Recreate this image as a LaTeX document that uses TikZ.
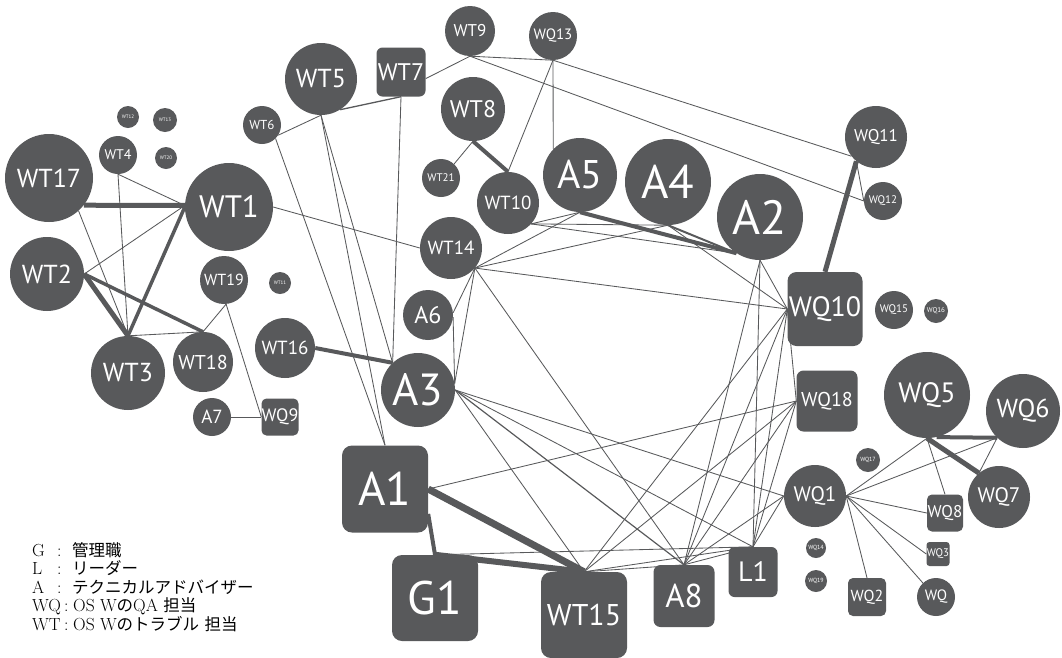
\documentclass[tikz,border=0pt]{standalone}
\usepackage{fontspec}
\setsansfont{PT Sans}
\newfontfamily\jpfont{Noto Sans CJK JP}
\newcommand\jtxt[1]{{\jpfont\fontsize{16.5}{16.5}\selectfont #1}}
\definecolor{ng}{RGB}{88,89,91}
\pgfdeclarelayer{bg}
\pgfsetlayers{bg,main}
\begin{document}
\begin{tikzpicture}[x=1pt,y=-1pt,
  basenode/.style={fill=ng, text=white, inner sep=0pt, draw=none},
  cnode/.style={basenode, circle, minimum size=#1},
  rnode/.style={basenode, rectangle, rounded corners=#1},
  fs/.style={font=\sffamily\fontsize{#1}{#1}\selectfont},
  edge/.style={draw=ng, line width=0.85pt},
  heavy/.style={draw=ng, line width=#1},
  legend/.style={anchor=base west, inner sep=0pt, font=\fontsize{17.5}{17.5}\selectfont}
]
\useasboundingbox (0,0) rectangle (1062,657);

% ---------- circle nodes ----------
\node[cnode=88, fs=26] (wt17) at (49,178) {WT17};
\node[cnode=88, fs=31] (wt1) at (229,207) {WT1};
\node[cnode=38, fs=14] (wt4) at (118,155) {WT4};
\node[cnode=22, fs=5] (wt12) at (128,117) {WT12};
\node[cnode=24, fs=5] (wt13) at (165,120) {WT13};
\node[cnode=22, fs=5] (wt20) at (166,158) {WT20};
\node[cnode=38, fs=13] (wt6) at (262,125) {WT6};
\node[cnode=74, fs=26] (wt2) at (47,274) {WT2};
\node[cnode=48, fs=16] (wt19) at (224,280) {WT19};
\node[cnode=22, fs=5] (wt11) at (280,283) {WT11};
\node[cnode=74, fs=26] (wt3) at (128,373) {WT3};
\node[cnode=60, fs=20] (wt18) at (203,362) {WT18};
\node[cnode=60, fs=19] (wt16) at (285,348) {WT16};
\node[cnode=38, fs=19] (a7) at (212,417) {A7};
\node[cnode=50, fs=17] (wt9) at (470,31) {WT9};
\node[cnode=48, fs=15] (wq13) at (553,36) {WQ13};
\node[cnode=72, fs=26] (wt5) at (321,79) {WT5};
\node[cnode=64, fs=24] (wt8) at (473,109) {WT8};
\node[cnode=38, fs=11] (wt21) at (441,178) {WT21};
\node[cnode=62, fs=19] (wt10) at (508,203) {WT10};
\node[cnode=74, fs=40] (a5) at (580,175) {A5};
\node[cnode=62, fs=19] (wt14) at (451,248) {WT14};
\node[cnode=50, fs=24] (a6) at (428,315) {A6};
\node[cnode=74, fs=45] (a3) at (418,390) {A3};
\node[cnode=86, fs=47] (a4) at (668,182) {A4};
\node[cnode=86, fs=48] (a2) at (760,217) {A2};
\node[cnode=62, fs=17] (wq11) at (876,137) {WQ11};
\node[cnode=38, fs=11] (wq12) at (883,201) {WQ12};
\node[cnode=38, fs=11] (wq15) at (894,310) {WQ15};
\node[cnode=24, fs=7] (wq16) at (936,311) {WQ16};
\node[cnode=86, fs=28] (wq5) at (927,395) {WQ5};
\node[cnode=74, fs=26] (wq6) at (1023,411) {WQ6};
\node[cnode=24, fs=6] (wq17) at (868,460) {WQ17};
\node[cnode=62, fs=21] (wq1) at (815,496) {WQ1};
\node[cnode=62, fs=21] (wq7) at (999,497) {WQ7};
\node[cnode=20, fs=6] (wq14) at (816,548) {WQ14};
\node[cnode=22, fs=6] (wq19) at (816,581) {WQ19};
\node[cnode=38, fs=15] (wq) at (936,597) {WQ};

% ---------- rounded square nodes ----------
\node[rnode=5, minimum width=37, minimum height=37, fs=18] (wq9) at (280,417) {WQ9};
\node[rnode=6, minimum width=49, minimum height=49, fs=24] (wt7) at (401,72) {WT7};
\node[rnode=9, minimum width=75, minimum height=74, fs=28] (wq10) at (825,309) {WQ10};
\node[rnode=7, minimum width=61, minimum height=61, fs=20] (wq18) at (827,401) {WQ18};
\node[rnode=5, minimum width=36, minimum height=37, fs=17] (wq8) at (945,513) {WQ8};
\node[rnode=3, minimum width=23, minimum height=24, fs=11] (wq3) at (938,554) {WQ3};
\node[rnode=5, minimum width=38, minimum height=38, fs=16] (wq2) at (867,597) {WQ2};
\node[rnode=10, minimum width=86, minimum height=87, fs=47] (a1) at (385,489) {A1};
\node[rnode=10, minimum width=86, minimum height=86, fs=47] (g1) at (435,598) {G1};
\node[rnode=10, minimum width=86, minimum height=86, fs=30] (wt15) at (584,615) {WT15};
\node[rnode=7, minimum width=61, minimum height=62, fs=33] (a8) at (684,596) {A8};
\node[rnode=6, minimum width=49, minimum height=50, fs=28] (l1) at (753,572) {L1};

% ---------- connectors ----------
\begin{pgfonlayer}{bg}
% left cluster
\draw[heavy=5pt] (wt17.-38) -- (wt1.178);
\draw[edge] (wt17.-48) -- (wt3.north);
\draw[edge] (wt4.south) -- (wt3.north);
\draw[edge] (wt4.south) -- (wt1.178);
\draw[edge] (wt2.east) -- (wt1.178);
\draw[heavy=5pt] (wt2.east) -- (wt3.north);
\draw[heavy=3.5pt] (wt2.east) -- (wt18.north);
\draw[heavy=3.5pt] (wt1.180) -- (wt3.north);
\draw[edge] (wt3.north) -- (wt18.north);
\draw[edge] (wt19.-85) -- (wt18.north);
\draw[edge] (wt19.-85) -- (wq9.west);
\draw[edge] (a7.east) -- (wq9.west);
\draw[edge] (wt1.east) -- (wt14.west);
% top
\draw[edge] (wt6.-32) -- (wt5.south);
\draw[heavy=1.3pt] (wt5.-58) -- (wt7.south);
\draw[edge] (wt7.-15) -- (wt9.south);
\draw[edge] (wt6.-45) -- (a1.north);
\draw[edge] (wt5.south) -- (a1.north);
\draw[edge] (wt5.south) -- (a3.133);
\draw[edge] (wt7.south) -- (a3.133);
\draw[heavy=4pt] (wt16.east) -- (a3.133);
\draw[heavy=4pt] (wt8.south) -- (wt10.north);
\draw[edge] (wt8.south) -- (wt21.47);
\draw[edge] (wq13.south) -- (wt10.north);
\draw[edge] (wq13.south) -- (a5.136);
\draw[edge] (wt9.south) -- (wq13.south);
\draw[edge] (wt9.south) -- (wq12.west);
\draw[edge] (wq13.south) -- (wq11.218);
\draw[heavy=5pt] (wq11.231) -- (wq10.north);
\draw[edge] (wq11.231) -- (wq12.west);
% middle
\draw[heavy=4pt] (a5.south) -- (a2.237);
\draw[heavy=2pt] (a4.south) -- (a2.237);
\draw[edge] (wt10.-42) -- (a5.south);
\draw[edge] (wt10.-42) -- (a4.south);
\draw[edge] (wt10.-42) -- (a2.237);
\draw[edge] (wt14.-40) -- (a5.south);
\draw[edge] (wt14.-40) -- (a4.south);
\draw[edge] (wt14.-40) -- (wq10.west);
\draw[edge] (a4.south) -- (wq10.west);
\draw[edge] (a2.south) -- (wq10.west);
\draw[edge] (wt14.-40) -- (a6.5);
\draw[edge] (wt14.-40) -- (a3.10);
\draw[edge] (a6.-5) -- (a3.10);
\draw[edge] (wt14.-40) -- (a8.north);
\draw[edge] (a3.east) -- (wq1.west);
\draw[edge] (a3.east) -- (l1.north);
\draw[heavy=1.2pt] (a3.east) -- (a8.north);
\draw[edge] (a3.east) -- (wt15.north);
\draw[edge] (a1.east) -- (wq18.west);
\draw[heavy=7pt] (a1.east) -- (wt15.north);
\draw[heavy=4pt] (a1.-30) -- (g1.north);
\draw[heavy=6pt] (g1.north) -- (wt15.north);
\draw[edge] (g1.north) -- (l1.north);
\draw[edge] (wt15.north) -- (a8.north);
\draw[edge] (wt15.north) -- (l1.north);
\draw[edge] (wt15.north) -- (wq10.west);
\draw[edge] (wt15.north) -- (wq18.west);
\draw[edge] (a8.north) -- (l1.north);
\draw[edge] (a8.north) -- (a2.south);
\draw[edge] (a8.north) -- (wq10.west);
\draw[edge] (a8.north) -- (wq18.west);
\draw[edge] (a8.north) -- (wq1.west);
\draw[edge] (l1.north) -- (a2.south);
\draw[edge] (l1.north) -- (wq10.west);
\draw[edge] (l1.north) -- (wq18.west);
\draw[edge] (l1.north) -- (wq1.west);
\draw[edge] (wq10.west) -- (wq18.west);
% right cluster
\draw[edge] (wq1.east) -- (wq5.south);
\draw[edge] (wq1.east) -- (wq6.226);
\draw[edge] (wq1.east) -- (wq8.west);
\draw[edge] (wq1.east) -- (wq3.west);
\draw[edge] (wq1.east) -- (wq.133);
\draw[edge] (wq1.east) -- (wq2.north);
\draw[edge] (wq5.south) -- (wq8.north);
\draw[heavy=4pt] (wq5.-77) -- (wq6.226);
\draw[heavy=5pt] (wq5.south) -- (wq7.130);
\draw[edge] (wq6.226) -- (wq7.130);
\end{pgfonlayer}

% ---------- legend ----------
\node[legend] (lg1) at (32,556) {\makebox[25pt][l]{G}\makebox[15pt][l]{:}\jtxt{管理職}};
\node[legend] (lg2) at (32,574.5) {\makebox[25pt][l]{L}\makebox[15pt][l]{:}\jtxt{リーダー}};
\node[legend] (lg3) at (32,593) {\makebox[25pt][l]{A}\makebox[15pt][l]{:}\jtxt{テクニカルアドバイザー}};
\node[legend] (lg4) at (32,611.5) {\makebox[32pt][l]{WQ}\makebox[9pt][l]{:}OS W\jtxt{の}QA \jtxt{担当}};
\node[legend] (lg5) at (32,630) {\makebox[32pt][l]{WT}\makebox[9pt][l]{:}OS W\jtxt{の}\jtxt{トラブル} \jtxt{担当}};
\end{tikzpicture}
\end{document}
